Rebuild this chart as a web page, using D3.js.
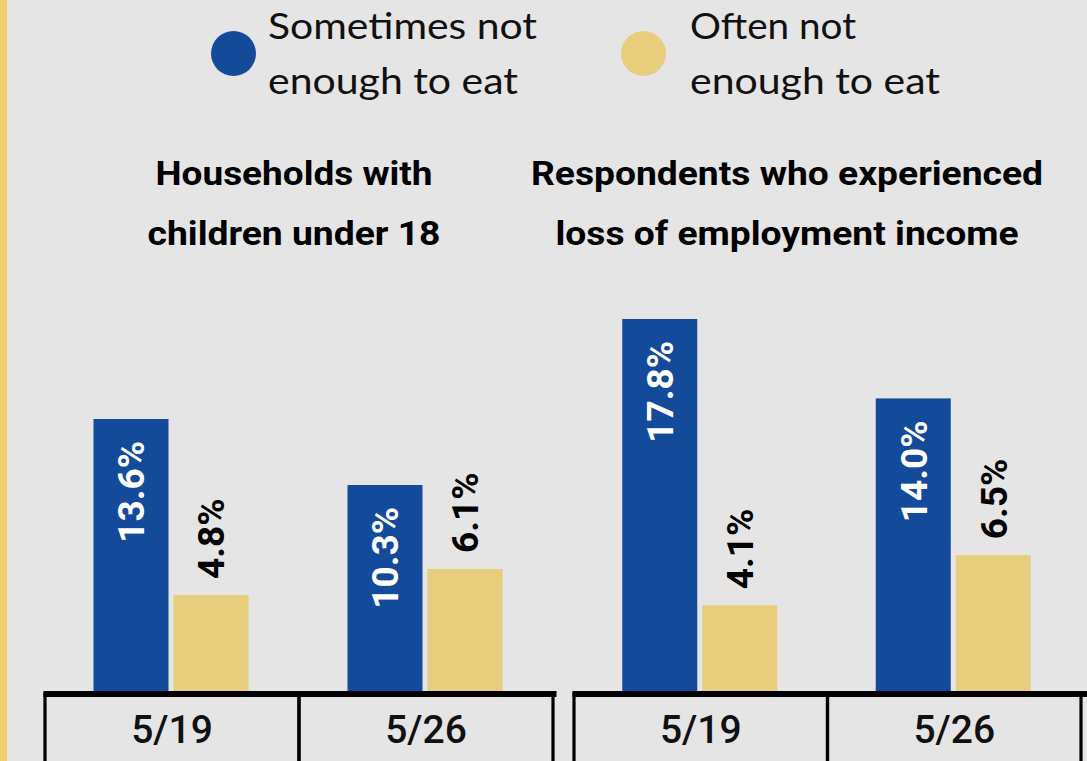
<!DOCTYPE html>
<html>
<head>
<meta charset="utf-8">
<script src="https://cdn.jsdelivr.net/npm/d3@7"></script>
<style>
html,body{margin:0;padding:0;background:#e5e5e5;overflow:hidden;}
svg{display:block;}
</style>
</head>
<body>
<svg id="chart" width="1087" height="761"></svg>
<script>
// ---- data ----
const dates = ["5/19", "5/26"];
const seriesKeys = ["sometimes", "often"];
const seriesLabels = [["Sometimes not", "enough to eat"], ["Often not", "enough to eat"]];
const panelTitles = [["Households with", "children under 18"], ["Respondents who experienced", "loss of employment income"]];
const householdsSometimes = [13.6, 10.3];
const householdsOften = [4.8, 6.1];
const incomeLossSometimes = [17.8, 14.0];
const incomeLossOften = [4.1, 6.5];

const colors = {sometimes: "#134a9a", often: "#e8cd7d"};

const svg = d3.select("#chart");
const W = 1087, H = 761;

svg.append("rect").attr("width", W).attr("height", H).attr("fill", "#e5e5e5");
svg.append("rect").attr("x", 0).attr("y", 0).attr("width", 7).attr("height", H).attr("fill", "#f2cd6e");

// legend
const legendPos = [{cx: 233.5, tx: 268}, {cx: 643.5, tx: 690}];
const legendWidths = [[269, 250], [166, 250]];
seriesKeys.forEach((k, i) => {
  const g = svg.append("g");
  g.append("circle").attr("cx", legendPos[i].cx).attr("cy", 53.5).attr("r", 22.5).attr("fill", colors[k]);
  seriesLabels[i].forEach((line, j) => {
    g.append("text")
      .attr("x", legendPos[i].tx)
      .attr("y", 39 + j * 55)
      .attr("font-family", "Lato, 'Open Sans', sans-serif")
      .attr("font-size", 37)
      .attr("textLength", legendWidths[i][j])
      .attr("lengthAdjust", "spacingAndGlyphs")
      .attr("fill", "#111")
      .text(line);
  });
});

const baseline = 691;
const titleWidths = [[277, 293], [512, 463]];
const panels = [
  {title: panelTitles[0], titleX: 294, range: [45, 553], yTop: 291,
   values: {sometimes: householdsSometimes, often: householdsOften}},
  {title: panelTitles[1], titleX: 787, range: [574, 1081], yTop: 273,
   values: {sometimes: incomeLossSometimes, often: incomeLossOften}}
];

panels.forEach((p, pi) => {
  const g = svg.append("g");
  // title
  p.title.forEach((line, j) => {
    g.append("text")
      .attr("x", p.titleX).attr("y", 185 + j * 60)
      .attr("text-anchor", "middle")
      .attr("font-family", "Roboto, sans-serif")
      .attr("font-weight", 700)
      .attr("font-size", 33)
      .attr("textLength", titleWidths[pi][j])
      .attr("lengthAdjust", "spacingAndGlyphs")
      .attr("fill", "#000")
      .text(line);
  });

  const x0 = d3.scaleBand().domain(dates).range(p.range);
  const x1 = d3.scaleBand().domain(seriesKeys).range([0, 155]).paddingInner(0.0625);
  const y = d3.scaleLinear().domain([0, 20]).range([baseline, p.yTop]);

  const rows = dates.map((d, i) => ({date: d, vals: seriesKeys.map(k => ({key: k, v: p.values[k][i]}))}));

  const groups = g.selectAll("g.grp").data(rows).join("g")
    .attr("class", "grp")
    .attr("transform", d => `translate(${x0(d.date) + x0.bandwidth() / 2 - 77.5 - 1},0)`);

  groups.selectAll("rect").data(d => d.vals).join("rect")
    .attr("x", d => x1(d.key))
    .attr("width", x1.bandwidth())
    .attr("y", d => y(d.v))
    .attr("height", d => baseline - y(d.v))
    .attr("fill", d => colors[d.key]);

  groups.selectAll("text").data(d => d.vals).join("text")
    .attr("transform", d => {
      const cx = x1(d.key) + x1.bandwidth() / 2;
      const ty = d.key === "sometimes" ? y(d.v) + 22 : y(d.v) - 16;
      return `translate(${cx},${ty}) rotate(-90)`;
    })
    .attr("text-anchor", d => d.key === "sometimes" ? "end" : "start")
    .attr("dy", "0.36em")
    .attr("font-family", "Roboto, sans-serif")
    .attr("font-weight", 700)
    .attr("font-size", 37)
    .attr("fill", d => d.key === "sometimes" ? "#fff" : "#000")
    .text(d => d.v.toFixed(1) + "%");

  // axis boxes
  const axisG = g.append("g");
  dates.forEach(d => {
    axisG.append("rect")
      .attr("x", x0(d)).attr("y", baseline + 3)
      .attr("width", x0.bandwidth()).attr("height", 100)
      .attr("fill", "none").attr("stroke", "#000").attr("stroke-width", 3.2);
    axisG.append("text")
      .attr("x", x0(d) + x0.bandwidth() / 2).attr("y", 743)
      .attr("text-anchor", "middle")
      .attr("font-family", "Roboto, sans-serif")
      .attr("font-weight", 500)
      .attr("font-size", 39)
      .attr("fill", "#111")
      .text(d);
  });
  axisG.append("rect")
    .attr("x", p.range[0] - 1.5).attr("y", baseline)
    .attr("width", p.range[1] - p.range[0] + (pi === 0 ? 5 : 20)).attr("height", 6)
    .attr("fill", "#000");
});
</script>
</body>
</html>
